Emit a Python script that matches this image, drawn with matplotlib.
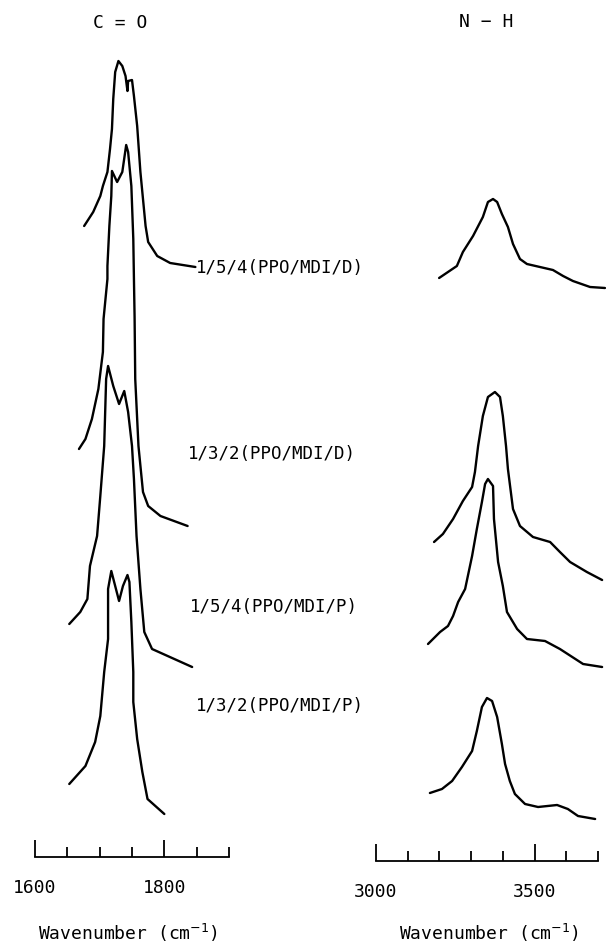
import numpy as np
import matplotlib
matplotlib.use('Agg')
import matplotlib.pyplot as plt
from matplotlib.ticker import FixedLocator

plt.rcParams['font.family'] = ['DejaVu Sans Mono', 'DejaVu Sans']

# ---- C=O region, spectra stacked top to bottom (wavenumber, absorbance + offset)
co_154D_x = [1676, 1690, 1701, 1705, 1712, 1716, 1719, 1721, 1724, 1729, 1735, 1740, 1743,
             1744, 1750, 1753, 1758, 1763, 1771, 1775, 1789, 1809, 1848]
co_154D_y = [6.31, 6.45, 6.61, 6.71, 6.85, 7.08, 7.28, 7.58, 7.85, 7.96, 7.91, 7.81, 7.66,
             7.76, 7.77, 7.61, 7.31, 6.85, 6.31, 6.15, 6.01, 5.94, 5.90]

co_132D_x = [1668, 1678, 1688, 1698, 1705, 1706, 1712, 1712, 1715, 1718, 1719, 1727, 1735,
             1741, 1744, 1749, 1752, 1753, 1754, 1755, 1760, 1767, 1775, 1794, 1836]
co_132D_y = [4.08, 4.18, 4.38, 4.68, 5.05, 5.38, 5.78, 5.91, 6.31, 6.61, 6.86, 6.75, 6.85,
             7.12, 7.05, 6.71, 6.18, 5.78, 5.40, 4.78, 4.11, 3.65, 3.51, 3.41, 3.31]

co_154P_x = [1653, 1670, 1681, 1685, 1696, 1701, 1707, 1710, 1713, 1721, 1730, 1738, 1744,
             1750, 1753, 1757, 1763, 1769, 1781, 1843]
co_154P_y = [2.33, 2.45, 2.58, 2.91, 3.21, 3.61, 4.11, 4.78, 4.91, 4.71, 4.53, 4.66, 4.45,
             4.11, 3.78, 3.21, 2.68, 2.25, 2.08, 1.90]

co_132P_x = [1653, 1678, 1693, 1701, 1707, 1713, 1713, 1718, 1724, 1730, 1736, 1743, 1746,
             1749, 1752, 1752, 1758, 1766, 1774, 1800]
co_132P_y = [0.73, 0.91, 1.15, 1.41, 1.85, 2.18, 2.68, 2.86, 2.71, 2.56, 2.71, 2.82, 2.75,
             2.35, 1.85, 1.55, 1.18, 0.85, 0.58, 0.43]

# ---- N-H region
nh_154D_x = [3199, 3227, 3255, 3274, 3306, 3337, 3353, 3369, 3382, 3397, 3416, 3432, 3454,
             3476, 3517, 3558, 3590, 3621, 3675, 3722]
nh_154D_y = [5.83, 5.89, 5.95, 6.09, 6.25, 6.44, 6.59, 6.62, 6.59, 6.47, 6.34, 6.17, 6.02,
             5.97, 5.94, 5.91, 5.85, 5.80, 5.74, 5.73]

nh_132D_x = [3183, 3211, 3243, 3274, 3303, 3312, 3322, 3337, 3353, 3375, 3391, 3400, 3410,
             3416, 3432, 3454, 3495, 3549, 3580, 3612, 3665, 3713]
nh_132D_y = [3.19, 3.27, 3.42, 3.60, 3.74, 3.89, 4.15, 4.45, 4.64, 4.69, 4.64, 4.45, 4.15,
             3.92, 3.52, 3.35, 3.24, 3.19, 3.09, 2.99, 2.89, 2.81]

nh_154P_x = [3164, 3202, 3227, 3243, 3259, 3281, 3303, 3318, 3334, 3344, 3353, 3369, 3372,
             3385, 3400, 3413, 3445, 3476, 3533, 3580, 3653, 3713]
nh_154P_y = [2.17, 2.29, 2.35, 2.45, 2.59, 2.72, 3.05, 3.32, 3.59, 3.77, 3.82, 3.75, 3.42,
             2.99, 2.75, 2.49, 2.32, 2.22, 2.20, 2.12, 1.97, 1.94]

nh_132P_x = [3170, 3208, 3240, 3271, 3303, 3318, 3334, 3350, 3366, 3382, 3397, 3407, 3422,
             3438, 3470, 3511, 3571, 3605, 3637, 3691]
nh_132P_y = [0.68, 0.72, 0.80, 0.94, 1.10, 1.30, 1.54, 1.63, 1.60, 1.44, 1.17, 0.97, 0.80,
             0.67, 0.57, 0.54, 0.56, 0.52, 0.45, 0.42]

sample_labels = ['1/5/4(PPO/MDI/D)', '1/3/2(PPO/MDI/D)', '1/5/4(PPO/MDI/P)', '1/3/2(PPO/MDI/P)']

W, H = 606, 945
fig = plt.figure(figsize=(W / 100, H / 100), dpi=100)

ax1 = fig.add_axes([35 / W, (H - 858) / H, 194 / W, 808 / H])
ax2 = fig.add_axes([376 / W, (H - 862) / H, 231.5 / W, 812 / H])

lw = 1.7
for x, y in [(co_154D_x, co_154D_y), (co_132D_x, co_132D_y),
             (co_154P_x, co_154P_y), (co_132P_x, co_132P_y)]:
    ax1.plot(x, y, color='black', lw=lw, solid_capstyle='round', solid_joinstyle='round')
for x, y in [(nh_154D_x, nh_154D_y), (nh_132D_x, nh_132D_y),
             (nh_154P_x, nh_154P_y), (nh_132P_x, nh_132P_y)]:
    ax2.plot(x, y, color='black', lw=lw, solid_capstyle='round', solid_joinstyle='round')

ax1.set_xlim(1600, 1900)
ax1.set_ylim(0, 8.08)
ax2.set_xlim(3000, 3730)
ax2.set_ylim(0, 8.12)

for ax, lo, hi, major, minor in [(ax1, 1600, 1900, [1600, 1800], 50),
                                 (ax2, 3000, 3700, [3000, 3500], 100)]:
    for s in ['top', 'left', 'right']:
        ax.spines[s].set_visible(False)
    ax.spines['bottom'].set_bounds(lo, hi)
    ax.spines['bottom'].set_linewidth(1.3)
    ax.set_yticks([])
    ax.xaxis.set_major_locator(FixedLocator(major))
    ax.xaxis.set_minor_locator(FixedLocator(list(range(lo, hi + 1, minor))))
    ax.tick_params(axis='x', which='major', direction='in', length=12, width=1.3,
                   labelsize=13, pad=15)
    ax.tick_params(axis='x', which='minor', direction='in', length=7.5, width=1.3)
    ax.patch.set_alpha(0)

fig.text(120 / W, 1 - 23 / H, 'C = O', ha='center', va='center', fontsize=13)
fig.text(486 / W, 1 - 22 / H, 'N \u2212 H', ha='center', va='center', fontsize=13)

for lab, cx, cy in zip(sample_labels, [280, 272, 274, 280], [268, 454, 607, 706]):
    fig.text(cx / W, 1 - cy / H, lab, ha='center', va='center', fontsize=12.5)

fig.text(128 / W, 1 - 933 / H, 'Wavenumber (cm$^{-1}$)', ha='center', va='center', fontsize=13)
fig.text(489 / W, 1 - 933 / H, 'Wavenumber (cm$^{-1}$)', ha='center', va='center', fontsize=13)

fig.savefig('out.png', dpi=100)
